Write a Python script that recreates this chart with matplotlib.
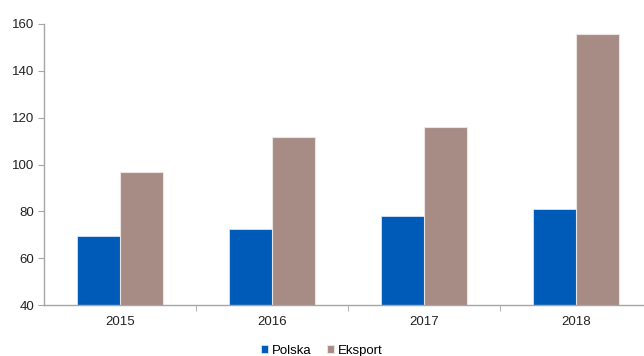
import numpy as np
import matplotlib.pyplot as plt

plt.rcParams['font.family'] = ['Liberation Sans', 'DejaVu Sans']

years = ['2015', '2016', '2017', '2018']
polska = [69.5, 72.6, 78.2, 81.1]
eksport = [96.7, 111.6, 115.9, 155.6]

fig = plt.figure(figsize=(6.44, 3.56), dpi=100)
ax = fig.add_axes([44 / 644, 51 / 356, 608 / 644, 281 / 356])

x = np.arange(len(years))
w = 0.285
ax.bar(x - w / 2, polska, w, color='#005BB8', edgecolor='#d9e4f2',
       linewidth=0.6, label='Polska', zorder=2)
ax.bar(x + w / 2, eksport, w, color='#A68C84', edgecolor='#ece4e2',
       linewidth=0.8, label='Eksport', zorder=2)

ax.set_ylim(40, 160)
ax.set_xlim(-0.5, len(years) - 0.5)
ax.set_yticks(range(40, 161, 20))
ax.set_xticks(x)
ax.set_xticklabels(years)
ax.set_xticks(np.arange(0.5, len(years) - 0.5, 1), minor=True)

for s in ['top', 'right']:
    ax.spines[s].set_visible(False)
for s in ['left', 'bottom']:
    ax.spines[s].set_color('#a6a6a6')
    ax.spines[s].set_linewidth(1)

ax.tick_params(axis='x', which='major', length=0, pad=8, labelsize=9.5, colors='#222222')
ax.tick_params(axis='x', which='minor', length=4, color='#a6a6a6', direction='out')
ax.tick_params(axis='y', length=4, color='#a6a6a6', labelsize=9.5, labelcolor='#222222', pad=3)

fig.legend(loc='lower center', bbox_to_anchor=(0.5, -0.035), ncol=2, frameon=False,
           fontsize=9.5, handlelength=0.5, handleheight=0.5, handletextpad=0.3,
           columnspacing=1.2)

fig.savefig('out.png', dpi=100)
